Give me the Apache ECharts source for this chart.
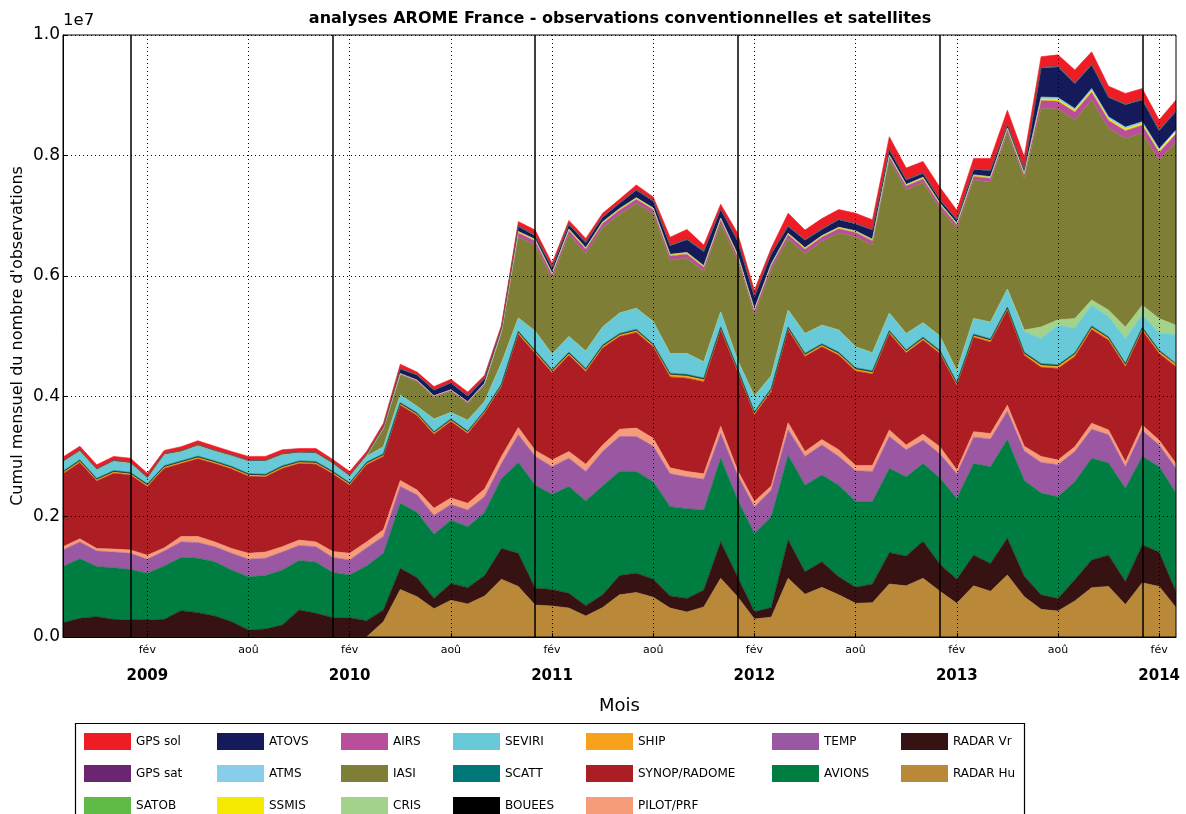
<!DOCTYPE html>
<html>
<head>
<meta charset="utf-8">
<title>analyses AROME France</title>
<script src="https://cdn.jsdelivr.net/npm/echarts@6/dist/echarts.min.js"></script>
<style>
  html, body { margin: 0; padding: 0; background: #fff; }
  #chart { width: 1186px; height: 814px; }
</style>
</head>
<body>
<div id="chart"></div>
<script>
// mois, de septembre 2008 a mars 2014
const months = [
  '2008-09', '2008-10', '2008-11', '2008-12',
  '2009-01', '2009-02', '2009-03', '2009-04', '2009-05', '2009-06', '2009-07', '2009-08', '2009-09', '2009-10', '2009-11', '2009-12',
  '2010-01', '2010-02', '2010-03', '2010-04', '2010-05', '2010-06', '2010-07', '2010-08', '2010-09', '2010-10', '2010-11', '2010-12',
  '2011-01', '2011-02', '2011-03', '2011-04', '2011-05', '2011-06', '2011-07', '2011-08', '2011-09', '2011-10', '2011-11', '2011-12',
  '2012-01', '2012-02', '2012-03', '2012-04', '2012-05', '2012-06', '2012-07', '2012-08', '2012-09', '2012-10', '2012-11', '2012-12',
  '2013-01', '2013-02', '2013-03', '2013-04', '2013-05', '2013-06', '2013-07', '2013-08', '2013-09', '2013-10', '2013-11', '2013-12',
  '2014-01', '2014-02', '2014-03'
];
// traits verticaux pleins au 1er janvier
const yearLines = ['2009-01', '2010-01', '2011-01', '2012-01', '2013-01', '2014-01'];
// etiquettes des mois affiches
const monthNames = { '02': 'fév', '08': 'aoû' };

// nombre d'observations par mois, en milliers
const radarHu = [0,0,0,0,0,0,0,0,0,0,0,0,0,0,0,0,0,0,0,255,790,670,470,610,550,680,960,840,530,515,480,350,490,700,740,660,480,415,500,975,670,300,330,975,710,825,700,560,570,880,850,975,760,560,850,760,1030,670,460,430,600,820,840,540,900,840,490];
const radarVr = [238,310,338,293,282,282,293,437,404,349,255,116,133,200,449,393,321,321,271,195,350,315,170,280,270,340,510,550,280,275,245,170,210,320,320,300,200,225,280,605,330,120,160,635,375,425,300,265,310,520,495,615,450,400,510,460,610,340,240,210,350,460,520,380,630,570,260];
const avions = [932,990,832,857,838,778,887,883,906,901,855,884,887,910,821,847,749,709,909,940,1080,1085,1065,1050,1010,1050,1160,1510,1710,1580,1775,1740,1810,1730,1690,1620,1485,1490,1330,1390,1280,1300,1510,1410,1435,1440,1520,1425,1370,1400,1315,1290,1430,1340,1520,1610,1640,1590,1690,1690,1630,1690,1530,1550,1470,1420,1640];
const temp = [275,280,260,260,270,230,250,260,260,250,280,290,290,300,250,260,250,250,300,280,280,290,315,260,280,260,250,460,480,460,470,490,570,580,580,590,545,530,510,410,410,440,440,420,480,500,480,510,500,530,450,390,400,410,440,460,470,490,510,530,500,480,470,360,430,360,410];
const pilot = [55,50,40,50,55,70,50,90,100,80,80,100,100,90,90,80,100,110,100,110,100,80,120,110,110,130,120,120,100,110,110,120,110,120,140,130,100,90,90,120,80,90,70,120,80,90,110,90,100,110,80,100,120,70,90,90,100,80,100,80,80,100,80,80,90,80,80];
const synop = [1210,1270,1120,1260,1245,1140,1320,1210,1290,1300,1320,1280,1250,1300,1270,1290,1290,1130,1280,1220,1250,1240,1230,1270,1160,1260,1160,1550,1610,1450,1600,1540,1610,1540,1590,1520,1510,1550,1530,1600,1640,1440,1570,1540,1580,1540,1570,1570,1520,1600,1530,1560,1550,1400,1570,1520,1580,1510,1480,1520,1500,1560,1490,1580,1570,1440,1610];
const ship = [25,25,25,25,25,25,25,25,25,25,25,25,25,25,25,25,25,25,25,25,25,25,25,25,25,25,25,30,30,30,30,30,30,30,30,30,40,40,40,30,30,30,30,30,30,30,30,30,30,30,30,30,30,30,30,30,30,30,40,40,40,35,35,35,35,35,35];
const bouees = [8,8,8,8,8,8,8,8,8,8,8,8,8,8,8,8,8,8,8,8,8,8,8,8,8,8,8,8,8,8,8,8,8,8,8,8,8,8,8,8,8,8,8,8,8,8,8,8,8,8,8,8,8,8,8,8,8,8,8,8,8,8,8,8,8,8,8];
const scatt = [12,12,12,12,12,12,12,12,12,12,12,12,12,12,12,12,12,12,12,12,12,12,12,12,12,12,12,15,15,15,15,15,15,15,15,15,15,15,15,15,15,15,15,15,15,15,15,15,15,15,15,15,15,15,15,15,15,15,15,15,15,15,15,15,15,15,15];
const seviri = [155,145,145,155,155,95,185,155,175,165,175,205,215,185,135,135,125,105,95,115,125,105,205,105,175,145,345,217,317,257,257,287,297,337,347,367,327,347,267,247,137,257,207,277,327,307,367,347,297,287,267,237,237,187,257,277,297,337,417,657,407,342,332,412,202,282,472];
const cris = [0,0,0,0,0,0,0,0,0,0,0,0,0,0,0,0,0,0,0,0,0,0,0,0,0,0,0,0,0,0,0,0,0,0,0,0,0,0,0,0,0,0,0,0,0,0,0,0,0,0,0,0,0,0,0,0,0,30,190,90,160,90,110,190,160,240,160];
const iasi = [0,0,0,0,0,0,0,0,0,0,0,0,0,0,0,0,0,0,10,290,330,410,360,350,280,280,500,1340,1430,1250,1690,1620,1650,1640,1740,1790,1550,1580,1500,1460,1660,1350,1760,1180,1330,1390,1610,1830,1790,2540,2390,2330,2120,2370,2300,2330,2590,2520,3630,3500,3300,3320,3020,3130,2860,2630,3050];
const airs = [0,0,0,0,0,0,0,0,0,0,0,0,0,0,0,0,0,0,0,25,25,25,25,25,25,25,25,70,70,70,70,70,70,70,70,70,70,70,70,70,70,70,70,70,70,70,70,70,70,60,60,60,60,60,60,60,60,60,130,130,130,130,130,130,130,130,130];
const ssmis = [0,0,0,0,0,0,0,0,0,0,0,0,0,0,0,0,0,0,0,0,0,0,0,0,0,0,0,25,25,25,25,25,25,25,25,25,25,25,25,25,25,25,25,25,25,25,25,25,25,25,25,25,25,25,25,25,25,25,30,30,30,30,30,30,30,30,30];
const atms = [0,0,0,0,0,0,0,0,0,0,0,0,0,0,0,0,0,0,0,0,0,0,0,0,0,0,0,0,0,0,0,0,0,0,0,0,0,0,0,0,0,0,0,0,0,0,0,0,0,0,0,0,0,0,0,0,0,0,30,30,30,30,30,30,30,30,30];
const atovs = [12,12,12,12,12,12,12,12,12,12,12,12,12,12,12,12,12,12,20,15,75,85,95,115,95,75,55,85,55,85,75,85,75,85,125,115,145,215,235,145,225,205,165,115,125,105,125,115,155,85,75,65,55,55,85,105,45,55,480,510,410,390,320,370,360,300,310];
const satob = [5,5,5,5,5,5,5,5,5,5,5,5,5,5,5,5,5,5,5,5,5,5,5,5,5,5,5,8,8,8,8,8,8,8,8,8,8,8,8,8,8,8,8,8,8,8,8,8,8,10,10,10,10,10,10,10,10,10,10,10,10,10,10,10,10,10,10];
const gpsSat = [2,2,2,2,2,2,2,2,2,2,2,2,2,2,2,2,2,2,2,2,2,2,2,2,2,2,2,3,3,3,3,3,3,3,3,3,3,3,3,3,3,3,3,3,3,3,3,3,3,3,3,3,3,3,3,3,3,3,3,3,3,3,3,3,3,3,3];
const gpsSol = [61,61,61,61,61,61,51,61,61,61,51,61,61,61,51,61,51,61,43,53,73,43,53,53,63,53,43,69,89,69,59,59,59,59,79,59,129,159,99,79,119,99,89,209,159,169,159,169,159,207,187,187,197,147,177,187,237,207,177,187,217,207,177,177,177,167,177];

// ordre d'empilement, du bas vers le haut
const layers = [
  ['RADAR Hu', radarHu, '#b98839'],
  ['RADAR Vr', radarVr, '#361212'],
  ['AVIONS', avions, '#007d40'],
  ['TEMP', temp, '#9a57a2'],
  ['PILOT/PRF', pilot, '#f79c79'],
  ['SYNOP/RADOME', synop, '#ac1d24'],
  ['SHIP', ship, '#f7a11c'],
  ['BOUEES', bouees, '#000000'],
  ['SCATT', scatt, '#00787a'],
  ['SEVIRI', seviri, '#68c9d9'],
  ['CRIS', cris, '#a3d28a'],
  ['IASI', iasi, '#7f7e36'],
  ['AIRS', airs, '#b94f9b'],
  ['SSMIS', ssmis, '#f5e900'],
  ['ATMS', atms, '#88cdea'],
  ['ATOVS', atovs, '#141a5a'],
  ['SATOB', satob, '#5fba46'],
  ['GPS sat', gpsSat, '#6c2570'],
  ['GPS sol', gpsSol, '#ee1c25']
];

// colonnes de la legende (comme matplotlib, ncol=7)
const legendCols = [
  [84, ['GPS sol', 'GPS sat', 'SATOB']],
  [217, ['ATOVS', 'ATMS', 'SSMIS']],
  [341, ['AIRS', 'IASI', 'CRIS']],
  [453, ['SEVIRI', 'SCATT', 'BOUEES']],
  [586, ['SHIP', 'SYNOP/RADOME', 'PILOT/PRF']],
  [772, ['TEMP', 'AVIONS']],
  [901, ['RADAR Vr', 'RADAR Hu']]
];

const isMarked = (index, value) => monthNames[value.slice(5)] !== undefined;
const dotted = { color: '#000', width: 1, type: [1, 3] };

const chart = echarts.init(document.getElementById('chart'));

const option = {
  animation: false,
  backgroundColor: '#fff',
  textStyle: { fontFamily: 'DejaVu Sans' },
  title: [
    {
      text: 'analyses AROME France - observations conventionnelles et satellites',
      left: 620, top: 11, textAlign: 'center', padding: 0,
      textStyle: { fontSize: 16, fontWeight: 'bold', color: '#000' }
    },
    {
      text: '1e7', left: 63, top: 12, padding: 0,
      textStyle: { fontSize: 16.5, fontWeight: 'normal', color: '#000' }
    }
  ],
  grid: {
    left: 63, right: 10, top: 35, bottom: 177,
    outerBoundsMode: 'none',
    containLabel: false,
    show: true, z: 6, backgroundColor: 'transparent',
    borderColor: '#000', borderWidth: 1
  },
  legend: legendCols.map(([left, names]) => ({
    orient: 'vertical',
    left: left, top: 733, padding: 0,
    itemWidth: 47, itemHeight: 17, itemGap: 15,
    icon: 'rect',
    data: names,
    textStyle: { fontSize: 12, color: '#000' }
  })),
  graphic: [{
    type: 'rect', silent: true,
    shape: { x: 75.5, y: 723.5, width: 949, height: 120 },
    style: { fill: 'none', stroke: '#000', lineWidth: 1.2 }
  }],
  xAxis: {
    type: 'category',
    data: months,
    boundaryGap: false,
    z: 5,
    name: 'Mois',
    nameLocation: 'middle',
    nameGap: 60,
    nameMoveOverlap: false,
    nameTextStyle: { fontSize: 18, color: '#000' },
    axisLine: { lineStyle: { color: '#000', width: 1 } },
    axisTick: { inside: true, length: 4, interval: isMarked, lineStyle: { color: '#000' } },
    splitLine: { show: true, interval: isMarked, lineStyle: dotted },
    axisLabel: {
      interval: isMarked,
      margin: 6,
      color: '#000',
      formatter: function (value) {
        const m = value.slice(5);
        if (m === '02') return '{m|' + monthNames[m] + '}\n{y|' + value.slice(0, 4) + '}';
        return '{m|' + monthNames[m] + '}';
      },
      rich: {
        m: { fontSize: 11, lineHeight: 14, color: '#000' },
        y: { fontSize: 15, fontWeight: 'bold', lineHeight: 38, color: '#000' }
      }
    }
  },
  yAxis: {
    type: 'value',
    min: 0, max: 10000, interval: 2000,
    z: 5,
    name: "Cumul mensuel du nombre d'observations",
    nameLocation: 'middle',
    nameGap: 37,
    nameMoveOverlap: false,
    nameTextStyle: { fontSize: 16, color: '#000' },
    axisLine: { show: true, lineStyle: { color: '#000', width: 1 } },
    axisTick: { show: true, inside: true, length: 5, lineStyle: { color: '#000' } },
    splitLine: { show: true, lineStyle: dotted },
    axisLabel: {
      fontSize: 17, color: '#000', margin: 3,
      formatter: v => (v / 10000).toFixed(1)
    }
  },
  series: layers.map(([name, values, color], k) => {
    const s = {
      name: name,
      type: 'line',
      stack: 'total',
      data: values,
      symbol: 'none',
      smooth: false,
      lineStyle: { width: 0.6, color: color },
      itemStyle: { color: color },
      areaStyle: { color: color, opacity: 1 },
      emphasis: { disabled: true }
    };
    if (k === layers.length - 1) {
      s.markLine = {
        silent: true,
        symbol: ['none', 'none'],
        label: { show: false },
        lineStyle: { color: '#000', width: 1.5, type: 'solid' },
        data: yearLines.map(c => ({ xAxis: c }))
      };
    }
    return s;
  })
};

chart.setOption(option);
</script>
</body>
</html>
